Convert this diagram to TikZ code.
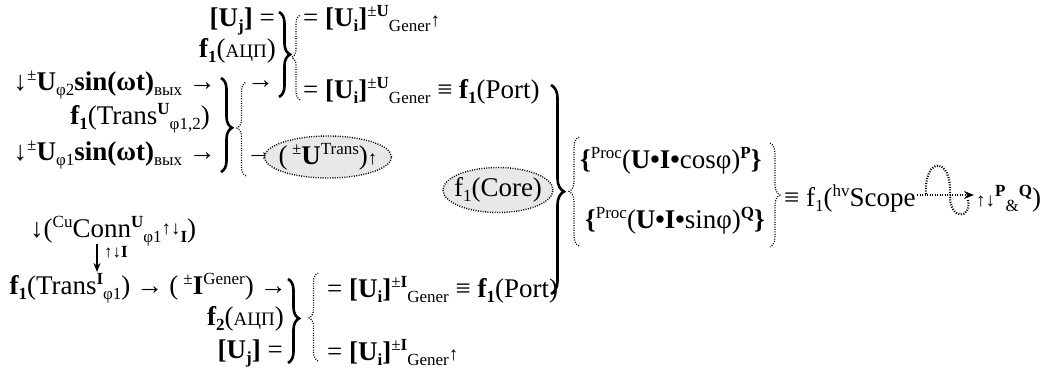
\documentclass[tikz,border=0pt]{standalone}
\usepackage{fontspec}
\setmainfont{Liberation Serif}
\usetikzlibrary{decorations.pathreplacing,shapes.geometric,arrows.meta}
\newcommand\Sup[1]{\raisebox{10pt}{\fontsize{17}{17}\selectfont #1}}
\newcommand\Sub[1]{\raisebox{-5pt}{\fontsize{17}{17}\selectfont #1}}
\newcommand\Sm[1]{{\fontsize{19}{19}\selectfont #1}}
\begin{document}
\begin{tikzpicture}[x=1pt,y=-1pt,
  txt/.style={inner sep=0pt, font=\fontsize{27}{30}\selectfont},
  sbrace/.style={decorate, decoration={brace, amplitude=11pt}, line width=2.6pt},
  dbrace/.style={decorate, decoration={brace, amplitude=8pt}, dash pattern=on 1pt off 1.4pt, line width=1.2pt},
  ovalst/.style={draw, dash pattern=on 1pt off 1.4pt, line width=1.4pt, fill=gray!18},
  dotline/.style={dash pattern=on 1pt off 1.5pt, line width=1.5pt}]
\useasboundingbox (0,0) rectangle (1045,372);
% top group
\node[txt, anchor=base east] (uj1) at (275,27) {\textbf{[U\Sub{j}]} =};
\node[txt, anchor=base east] (adc1) at (276,57) {\textbf{f\Sub{1}}(\Sm{АЦП})};
\node[txt, anchor=base west] (ug1) at (303,27) {= \textbf{[U\Sub{i}]}\Sup{±\textbf{U}}\Sub{Gener}\Sm{↑}};
\node[txt, anchor=base west] (ug2) at (303,98) {= \textbf{[U\Sub{i}]}\Sup{±\textbf{U}}\Sub{Gener} ≡ \textbf{f\Sub{1}}(Port)};
% U inputs
\node[txt, anchor=base east] (u2) at (216,90) {↓\Sup{±}\textbf{U}\Sub{φ2}\textbf{sin(ωt)}\Sub{вых} →};
\node[txt, anchor=base east] (tu) at (210,124) {\textbf{f\Sub{1}}(Trans\Sup{\textbf{U}}\Sub{φ1,2})};
\node[txt, anchor=base east] (u1) at (216,160) {↓\Sup{±}\textbf{U}\Sub{φ1}\textbf{sin(ωt)}\Sub{вых} →};
\node[txt, anchor=base west] (ar1) at (247,88) {→};
\node[txt, anchor=base west] (ar2) at (246,160) {→};
\coordinate (utrc) at (328,157);
\path[ovalst] (utrc) ellipse [x radius=63.5pt, y radius=21pt];
\node[txt] (utr) at (utrc) {(\,\Sup{±}\textbf{U}\Sup{Trans})\Sm{↑}};
\coordinate (corec) at (498,190);
\path[ovalst] (corec) ellipse [x radius=55pt, y radius=22.5pt];
\node[txt] (core) at (corec) {f\Sub{1}(Core)};
% power
\node[txt, anchor=base west] (pp) at (580,168) {\textbf{\{}\Sup{Proc}(\textbf{U•I•}cosφ)\Sup{\textbf{P}}\textbf{\}}};
\node[txt, anchor=base west] (qq) at (585,228) {\textbf{\{}\Sup{Proc}(\textbf{U•I•}sinφ)\Sup{\textbf{Q}}\textbf{\}}};
\node[txt, anchor=base west] (sc) at (784,206) {≡ f\Sub{1}(\Sup{hv}Scope};
\node[txt, anchor=base west] (pq) at (976,206) {\Sm{↑↓}\Sup{\textbf{P}}\Sub{\&}\Sup{\textbf{Q}})};
% bottom group
\node[txt, anchor=base west] (conn) at (30,237) {↓(\Sup{Cu}Conn\Sup{\textbf{U}}\Sub{φ1}\raisebox{3pt}{\Sm{↑↓}}\Sub{\textbf{I}})};
\node[txt, anchor=base east] (ti) at (287,294) {\textbf{f\Sub{1}}(Trans\Sup{\textbf{I}}\Sub{φ1})\hspace{6pt}→\hspace{6pt}(\hspace{5pt}\Sup{±}\textbf{I}\Sup{Gener})\hspace{6pt}→};
\node[txt, anchor=base east] (adc2) at (284,325) {\textbf{f\Sub{2}}(\Sm{АЦП})};
\node[txt, anchor=base east] (uj2) at (283,358) {\textbf{[U\Sub{j}]} =};
\node[txt, anchor=base west] (ig1) at (327,297) {= \textbf{[U\Sub{i}]}\Sup{±\textbf{I}}\Sub{Gener} ≡ \textbf{f\Sub{1}}(Port)};
\node[txt, anchor=base west] (ig2) at (327,360) {= \textbf{[U\Sub{i}]}\Sup{±\textbf{I}}\Sub{Gener}\Sm{↑}};
\node[inner sep=0pt, anchor=west, font=\fontsize{17}{17}\selectfont] (il) at (104,252) {↑↓\textbf{I}};
% braces
\draw[sbrace] (279,12) -- (279,97);
\draw[dbrace] (300,100) -- (300,15);
\draw[sbrace, decoration={aspect=0.53}] (221,78) -- (221,172);
\draw[dbrace, decoration={amplitude=9pt, aspect=0.51}] (246,176) -- (246,82);
\draw[sbrace, decoration={amplitude=13pt, aspect=0.51}] (551,85) -- (551,294);
\draw[dbrace, decoration={amplitude=10pt, aspect=0.5}] (579,246) -- (579,137);
\draw[dbrace, decoration={amplitude=10pt, aspect=0.5}] (770,143) -- (770,247);
\draw[sbrace, decoration={aspect=0.47}] (288,279) -- (288,363);
\draw[dbrace, decoration={amplitude=9pt, aspect=0.49}] (318,361) -- (318,273);
% arrows
\coordinate (da1) at (97,244);
\coordinate (da2) at (97,272);
\draw[line width=1.9pt, -{Stealth[length=9pt,width=7pt]}] (da1) -- (da2);
\coordinate (lp1) at (917,195);
\coordinate (lp2) at (974,195);
\draw[dotline, -{Stealth[length=10pt,width=8pt]}] (lp1) -- (lp2);
\draw[dotline, line width=2.2pt] (926,194) .. controls (924,156) and (952,156) .. (950,195) .. controls (949,220) and (972,220) .. (968,200);
\end{tikzpicture}
\end{document}
